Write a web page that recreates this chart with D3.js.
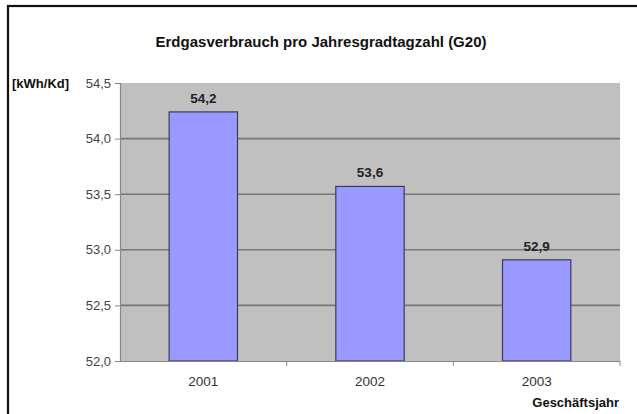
<!DOCTYPE html>
<html><head><meta charset="utf-8">
<script src="https://cdn.jsdelivr.net/npm/d3@7"></script>
<style>body{margin:0;background:#fff;overflow:hidden}svg{display:block;font-family:Arial,"Liberation Sans",sans-serif}</style>
</head><body>
<svg id="c" width="637" height="414"></svg>
<script>
const categories = ["2001","2002","2003"];
const values = [54.24, 53.57, 52.91];
const yTicks = [52.0, 52.5, 53.0, 53.5, 54.0, 54.5];
const title = "Erdgasverbrauch pro Jahresgradtagzahl (G20)";
const yLabel = "[kWh/Kd]";
const xLabel = "Geschäftsjahr";

const svg = d3.select("#c");
const m = {left:120, top:83, right:620, bottom:361};
const de = d3.formatLocale({decimal:",", thousands:".", grouping:[3], currency:["","€"]});
const f1 = de.format(".1f");
const FF = "Arial,'Liberation Sans',sans-serif";

// outer frame
svg.append("rect").attr("x",8).attr("y",6).attr("width",700).attr("height",460)
  .attr("fill","#fff").attr("stroke","#111").attr("stroke-width",2.2);

const x = d3.scaleBand().domain(categories).range([m.left,m.right]).paddingInner(0.59).paddingOuter(0.295);
const xb = d3.scaleBand().domain(categories).range([m.left,m.right]);
const y = d3.scaleLinear().domain([52,54.5]).range([m.bottom,m.top]);

svg.append("rect").attr("x",m.left).attr("y",m.top).attr("width",m.right-m.left).attr("height",m.bottom-m.top).attr("fill","#c0c0c0");

// gridlines
svg.append("g").selectAll("line").data(yTicks.slice(1,-1)).join("line")
  .attr("x1",m.left).attr("x2",m.right).attr("y1",d=>y(d)).attr("y2",d=>y(d))
  .attr("stroke","#777").attr("stroke-width",1.6);

// bars
svg.append("g").selectAll("rect").data(values).join("rect")
  .attr("x",(d,i)=>x(categories[i])).attr("width",x.bandwidth())
  .attr("y",d=>y(d)).attr("height",d=>y(52)-y(d))
  .attr("fill","#9999ff").attr("stroke","#3a3a5a").attr("stroke-width",1.2);

// value labels
svg.append("g").selectAll("text").data(values).join("text")
  .attr("x",(d,i)=>x(categories[i])+x.bandwidth()/2).attr("y",d=>y(d)-9)
  .attr("text-anchor","middle").attr("font-size",13.5).attr("font-weight","bold").attr("fill","#222")
  .text(d=>f1(d));

// y axis
const ya = svg.append("g").attr("transform",`translate(${m.left},0)`)
  .call(d3.axisLeft(y).tickValues(yTicks).tickSize(5).tickPadding(4).tickFormat(f1));
ya.select(".domain").attr("stroke","#888").attr("stroke-width",1.2);
ya.selectAll(".tick line").attr("stroke","#888");
ya.selectAll("text").attr("font-size",13).attr("fill","#444").attr("font-family",FF);

// x axis
const xa = svg.append("g").attr("transform",`translate(0,${m.bottom})`)
  .call(d3.axisBottom(xb).tickSize(0).tickPadding(15));
xa.select(".domain").attr("stroke","#888").attr("stroke-width",1.2);
xa.selectAll("text").attr("font-size",13.5).attr("fill","#333").attr("font-family",FF);
svg.append("g").selectAll("line").data(categories).join("line")
  .attr("x1",d=>xb(d)+xb.bandwidth()).attr("x2",d=>xb(d)+xb.bandwidth())
  .attr("y1",m.bottom).attr("y2",m.bottom+5).attr("stroke","#888");

// texts
svg.append("text").attr("x",321).attr("y",47).attr("text-anchor","middle")
  .attr("font-size",15).attr("font-weight","bold").attr("fill","#111").text(title);
svg.append("text").attr("x",12).attr("y",88).attr("font-size",13).attr("font-weight","bold").attr("fill","#111").text(yLabel);
svg.append("text").attr("x",619).attr("y",407).attr("text-anchor","end")
  .attr("font-size",13).attr("font-weight","bold").attr("fill","#111").text(xLabel);
</script>
</body></html>
